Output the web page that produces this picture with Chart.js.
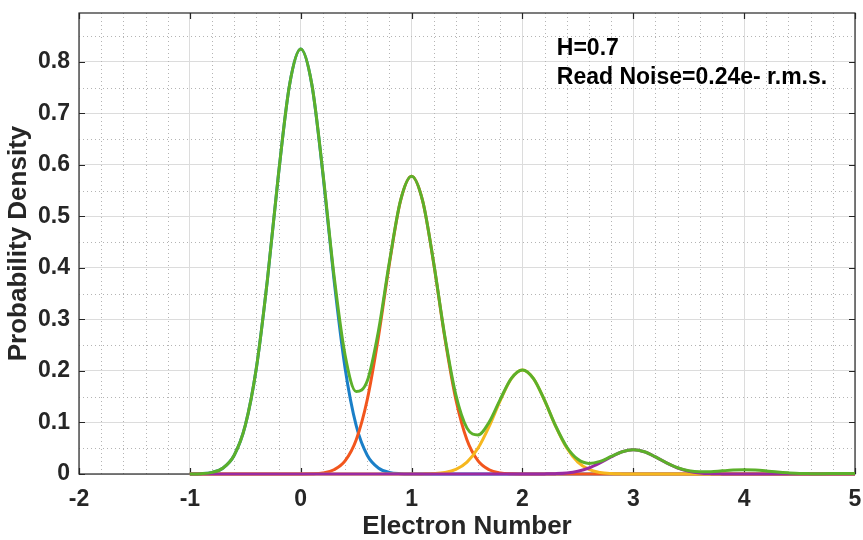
<!DOCTYPE html>
<html>
<head>
<meta charset="utf-8">
<script src="https://cdn.jsdelivr.net/npm/chart.js@4"></script>
<style>
  html, body { margin: 0; padding: 0; background: #fff; }
  #wrap { width: 863px; height: 540px; }
</style>
</head>
<body>
<div id="wrap"><canvas id="pdfChart" width="863" height="540"></canvas></div>
<script>
// electron number axis (sampled every 0.1)
const electrons = [-1, -0.9, -0.8, -0.7, -0.6, -0.5, -0.4, -0.3, -0.2, -0.1,
    0, 0.1, 0.2, 0.3, 0.4, 0.5, 0.6, 0.7, 0.8, 0.9,
    1, 1.1, 1.2, 1.3, 1.4, 1.5, 1.6, 1.7, 1.8, 1.9,
    2, 2.1, 2.2, 2.3, 2.4, 2.5, 2.6, 2.7, 2.8, 2.9,
    3, 3.1, 3.2, 3.3, 3.4, 3.5, 3.6, 3.7, 3.8, 3.9,
    4, 4.1, 4.2, 4.3, 4.4, 4.5, 4.6, 4.7, 4.8, 4.9, 5];

const peak0 = [0.0001, 0.0007, 0.0032, 0.0117, 0.0363, 0.0942, 0.2058, 0.3777, 0.5829, 0.7564,
    0.825, 0.7564, 0.5829, 0.3777, 0.2058, 0.0942, 0.0363, 0.0117, 0.0032, 0.0007,
    0.0001, 0, 0, 0, 0, 0, 0, 0, 0, 0,
    0, 0, 0, 0, 0, 0, 0, 0, 0, 0,
    0, 0, 0, 0, 0, 0, 0, 0, 0, 0,
    0, 0, 0, 0, 0, 0, 0, 0, 0, 0, 0];

const peak1 = [0, 0, 0, 0, 0, 0, 0, 0, 0, 0,
    0.0001, 0.0005, 0.0022, 0.0082, 0.0254, 0.0660, 0.1442, 0.2646, 0.4084, 0.530,
    0.578, 0.530, 0.4084, 0.2646, 0.1442, 0.0660, 0.0254, 0.0082, 0.0022, 0.0005,
    0.0001, 0, 0, 0, 0, 0, 0, 0, 0, 0,
    0, 0, 0, 0, 0, 0, 0, 0, 0, 0,
    0, 0, 0, 0, 0, 0, 0, 0, 0, 0, 0];

const peak2 = [0, 0, 0, 0, 0, 0, 0, 0, 0, 0,
    0, 0, 0, 0, 0, 0, 0, 0, 0, 0,
    0, 0.0002, 0.0008, 0.0029, 0.0089, 0.0231, 0.0504, 0.0925, 0.1427, 0.1852,
    0.202, 0.1852, 0.1427, 0.0925, 0.0504, 0.0231, 0.0089, 0.0029, 0.0008, 0.0002,
    0, 0, 0, 0, 0, 0, 0, 0, 0, 0,
    0, 0, 0, 0, 0, 0, 0, 0, 0, 0, 0];

const peak3 = [0, 0, 0, 0, 0, 0, 0, 0, 0, 0,
    0, 0, 0, 0, 0, 0, 0, 0, 0, 0,
    0, 0, 0, 0, 0, 0, 0, 0, 0, 0,
    0, 0, 0.0002, 0.0007, 0.0021, 0.0054, 0.0117, 0.0215, 0.0332, 0.0431,
    0.047, 0.0431, 0.0332, 0.0215, 0.0117, 0.0054, 0.0021, 0.0007, 0.0002, 0,
    0, 0, 0, 0, 0, 0, 0, 0, 0, 0, 0];

const total = [0.0001, 0.0007, 0.0032, 0.0117, 0.0363, 0.0942, 0.2058, 0.3777, 0.5829, 0.7564,
    0.8251, 0.7569, 0.5851, 0.3859, 0.2312, 0.1602, 0.1805, 0.2763, 0.4116, 0.5307,
    0.5781, 0.5302, 0.4092, 0.2675, 0.1531, 0.0891, 0.0758, 0.1007, 0.1449, 0.1857,
    0.2021, 0.1852, 0.1429, 0.0932, 0.0525, 0.0285, 0.0206, 0.0244, 0.0340, 0.0433,
    0.0470, 0.0431, 0.0332, 0.0216, 0.0121, 0.0063, 0.0042, 0.0045, 0.0061, 0.0076,
    0.0083, 0.0076, 0.0059, 0.0038, 0.0022, 0.0010, 0.0007, 0.0006, 0.0008, 0.0011, 0.0012];

const yTicks = [0, 0.1, 0.2, 0.3, 0.4, 0.5, 0.6, 0.7, 0.8];
const xTicks = [-2, -1, 0, 1, 2, 3, 4, 5];
const noteLines = ['H=0.7', 'Read Noise=0.24e- r.m.s.'];

const textColor = '#262626';
const fontFamily = '"Liberation Sans", Arial, Helvetica, sans-serif';

function toPoints(ys) {
    return electrons.map((x, i) => ({ x: x, y: ys[i] }));
}

function lineSet(ys, color, order) {
    return {
        data: toPoints(ys),
        borderColor: color,
        borderWidth: 3,
        pointRadius: 0,
        cubicInterpolationMode: 'monotone',
        fill: false,
        clip: 4,
        order: order
    };
}

// dotted minor grid, box, inward ticks and the text note
const matlabLook = {
    id: 'matlabLook',
    beforeDatasetsDraw(chart) {
        const { ctx, chartArea: a, scales: { x, y } } = chart;
        ctx.save();
        ctx.strokeStyle = '#b4b4b4';
        ctx.lineWidth = 1;
        ctx.setLineDash([1, 3]);
        ctx.beginPath();
        for (let k = -10; k <= 25; k++) {
            if (k % 5 === 0) continue;
            const px = Math.round(x.getPixelForValue(k * 0.2)) + 0.5;
            ctx.moveTo(px, a.top);
            ctx.lineTo(px, a.bottom);
        }
        for (let k = 1; k <= 17; k += 2) {
            const py = Math.round(y.getPixelForValue(k * 0.05)) + 0.5;
            ctx.moveTo(a.left, py);
            ctx.lineTo(a.right, py);
        }
        ctx.stroke();
        ctx.setLineDash([]);

        ctx.strokeStyle = textColor;
        ctx.lineWidth = 1.2;
        ctx.strokeRect(a.left, a.top, a.right - a.left, a.bottom - a.top);
        ctx.beginPath();
        const len = 6;
        xTicks.forEach(v => {
            const px = Math.round(x.getPixelForValue(v)) + 0.5;
            ctx.moveTo(px, a.bottom);
            ctx.lineTo(px, a.bottom - len);
            ctx.moveTo(px, a.top);
            ctx.lineTo(px, a.top + len);
        });
        yTicks.forEach(v => {
            const py = Math.round(y.getPixelForValue(v)) + 0.5;
            ctx.moveTo(a.left, py);
            ctx.lineTo(a.left + len, py);
            ctx.moveTo(a.right, py);
            ctx.lineTo(a.right - len, py);
        });
        ctx.stroke();
        ctx.restore();
    },
    afterDatasetsDraw(chart) {
        const { ctx, scales: { x, y } } = chart;
        ctx.save();
        ctx.fillStyle = '#000';
        ctx.font = 'bold 23px ' + fontFamily;
        ctx.textBaseline = 'alphabetic';
        ctx.textAlign = 'left';
        ctx.fillText(noteLines[0], x.getPixelForValue(2.31), y.getPixelForValue(0.813));
        ctx.fillText(noteLines[1], x.getPixelForValue(2.31), y.getPixelForValue(0.757));
        ctx.restore();
    }
};

const ctx = document.getElementById('pdfChart').getContext('2d');
const chart = new Chart(ctx, {
    type: 'line',
    data: {
        datasets: [
            lineSet(peak0, '#1a7fc8', 4),
            lineSet(peak1, '#f2561d', 3),
            lineSet(peak2, '#f6b71e', 2),
            lineSet(peak3, '#9a2aa2', 1),
            lineSet(total, '#5cb02a', 0)
        ]
    },
    options: {
        responsive: false,
        animation: false,
        events: [],
        layout: { padding: { top: 13, right: 8, left: 0, bottom: 0 } },
        plugins: {
            legend: { display: false },
            tooltip: { enabled: false }
        },
        scales: {
            x: {
                type: 'linear',
                min: -2,
                max: 5,
                afterBuildTicks: s => { s.ticks = xTicks.map(v => ({ value: v })); },
                afterFit: s => {
                    s.height = 66;
                    s.paddingLeft = 0;
                    s.paddingRight = 0;
                },
                grid: { color: '#dcdcdc', lineWidth: 1, drawTicks: false },
                border: { display: false },
                ticks: {
                    color: textColor,
                    padding: 12,
                    maxRotation: 0,
                    font: { family: fontFamily, size: 23, weight: 'bold' }
                },
                title: {
                    display: true,
                    text: 'Electron Number',
                    color: textColor,
                    padding: 0,
                    font: { family: fontFamily, size: 26, weight: 'bold', lineHeight: 1 }
                }
            },
            y: {
                min: 0,
                max: 0.895,
                afterBuildTicks: s => { s.ticks = yTicks.map(v => ({ value: v })); },
                afterFit: s => {
                    s.width = 79;
                    s.paddingTop = 0;
                    s.paddingBottom = 0;
                },
                grid: { color: '#dcdcdc', lineWidth: 1, drawTicks: false },
                border: { display: false },
                ticks: {
                    color: textColor,
                    padding: 9,
                    callback: v => String(Math.round(v * 10) / 10),
                    font: { family: fontFamily, size: 23, weight: 'bold' }
                },
                title: {
                    display: true,
                    text: 'Probability Density',
                    color: textColor,
                    padding: 3,
                    font: { family: fontFamily, size: 26, weight: 'bold', lineHeight: 1.2 }
                }
            }
        }
    },
    plugins: [matlabLook]
});
</script>
</body>
</html>
